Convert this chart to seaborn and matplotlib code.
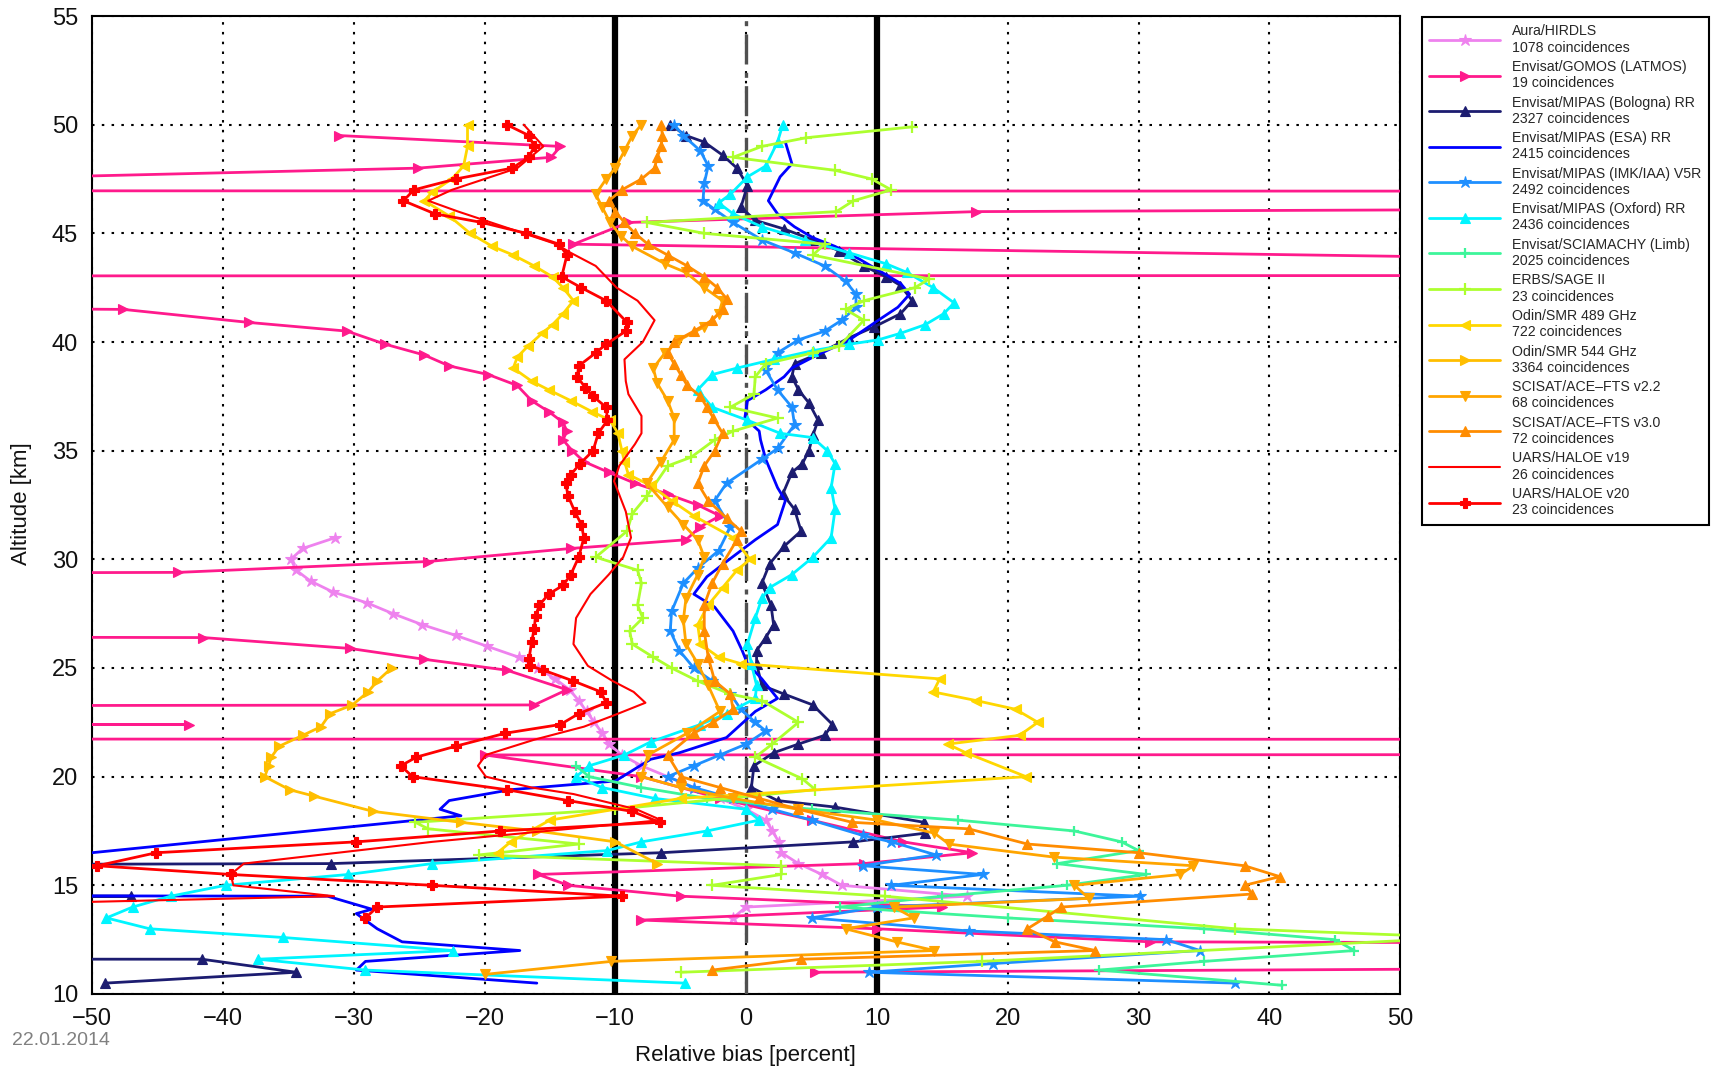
import matplotlib
matplotlib.use("Agg")
import matplotlib.pyplot as plt
import seaborn as sns
import numpy as np

# ---------------- data (altitude km, relative bias %) ----------------
alt_hirdls = [31.0, 30.5, 30.0, 29.5, 29.0, 28.5, 28.0, 27.5, 27.0, 26.5, 26.0, 25.5, 25.0, 24.5, 24.0, 23.5, 23.0, 22.5, 22.0, 21.5, 21.0, 20.5, 20.0, 19.5, 19.0, 18.5, 18.0, 17.5, 17.0, 16.5, 16.0, 15.5, 15.0, 14.5, 14.0, 13.5]
val_hirdls = [-31.4, -33.9, -34.8, -34.4, -33.3, -31.6, -29.0, -27.0, -24.8, -22.2, -19.8, -17.4, -15.9, -14.6, -13.5, -12.8, -12.2, -11.6, -11.0, -10.5, -9.5, -8.0, -6.0, -4.0, -2.0, 0.0, 1.5, 2.0, 2.5, 2.7, 4.0, 5.8, 7.3, 16.9, 0.0, -1.0]

alt_gomos = [49.5, 49.0, 48.5, 48.0, 47.5, 47.0, 46.9, 46.0, 45.5, 44.5, 43.5, 43.1, 43.0, 41.5, 40.9, 40.5, 39.9, 39.4, 38.9, 38.5, 38.0, 37.3, 36.8, 36.3, 35.9, 35.5, 35.0, 34.5, 34.0, 33.5, 33.0, 32.5, 32.0, 31.5, 30.9, 30.5, 29.9, 29.4, 29.0, 26.7, 26.4, 25.9, 25.4, 24.9, 24.0, 23.3, 23.1, 22.45, 22.4, 22.3, 21.75, 21.7, 21.05, 21.0, 20.0, 19.0, 18.0, 17.0, 16.5, 16.0, 15.5, 15.0, 14.5, 14.0, 13.4, 13.0, 12.4, 12.0, 11.9, 11.0]
val_gomos = [-31.1, -14.2, -14.9, -25.1, -60.0, -400.0, 400.0, 17.6, -9.0, -13.2, 100.0, 400.0, -400.0, -47.6, -38.0, -30.5, -27.6, -24.6, -22.7, -19.7, -17.5, -16.4, -15.1, -14.0, -13.7, -14.0, -13.3, -12.4, -10.5, -8.5, -6.0, -3.7, -2.0, -3.5, -4.6, -13.4, -24.3, -43.4, -300.0, -300.0, -41.5, -30.3, -24.6, -18.3, -13.7, -16.2, -300.0, -300.0, -42.6, -300.0, -300.0, 300.0, 300.0, -20.0, -8.0, -2.0, 5.0, 12.0, 17.3, 9.0, -15.9, -13.6, -5.0, 15.0, -8.0, 10.0, 30.9, 300.0, 300.0, 5.3]

alt_bologna = [50.0, 49.5, 49.2, 48.6, 48.0, 47.2, 46.2, 45.6, 45.2, 44.7, 44.2, 43.5, 43.0, 42.6, 41.9, 41.3, 40.7, 40.2, 39.5, 39.0, 38.4, 37.8, 37.2, 36.4, 35.7, 35.0, 34.4, 34.0, 33.0, 32.3, 31.3, 30.6, 29.8, 28.9, 27.9, 27.0, 26.4, 25.8, 25.2, 24.2, 23.8, 23.3, 22.4, 21.9, 21.5, 21.1, 20.5, 19.5, 18.9, 18.6, 17.9, 17.4, 17.0, 16.5, 16.0, 15.6, 14.6, 14.5, 14.3, 11.65, 11.6, 11.0, 10.5]
val_bologna = [-5.8, -4.6, -3.2, -1.8, -0.7, 0.1, -0.4, 0.7, 2.9, 5.1, 7.1, 9.0, 10.7, 11.8, 12.7, 11.8, 9.8, 7.9, 5.7, 3.7, 3.5, 4.0, 4.8, 5.5, 5.1, 4.8, 4.3, 3.5, 2.8, 3.7, 4.2, 2.9, 1.8, 1.2, 1.9, 2.1, 1.5, 0.8, 0.8, 1.2, 2.9, 5.1, 6.6, 6.0, 4.0, 2.1, 0.6, 0.4, 2.4, 6.8, 13.6, 13.7, 8.2, -6.5, -31.7, -300.0, -300.0, -47.0, -300.0, -300.0, -41.6, -34.4, -49.0]

alt_esa = [49.2, 48.2, 47.6, 46.5, 45.9, 45.3, 44.8, 44.4, 43.8, 43.2, 42.7, 42.2, 41.6, 41.0, 40.1, 39.3, 38.8, 38.4, 37.8, 37.3, 36.5, 35.9, 35.5, 34.6, 33.3, 32.7, 31.6, 30.9, 29.9, 29.2, 28.4, 27.8, 26.7, 25.8, 25.2, 24.5, 23.6, 23.0, 22.4, 21.8, 21.1, 20.8, 19.8, 19.4, 18.9, 18.5, 18.2, 16.2, 15.0, 14.7, 14.5, 13.9, 13.7, 13.0, 12.4, 12.0, 11.5, 11.1, 10.5]
val_esa = [3.0, 3.5, 2.6, 1.7, 2.4, 3.7, 5.1, 6.8, 8.7, 10.4, 11.8, 12.5, 11.6, 10.1, 7.9, 5.1, 3.5, 2.9, 1.5, 0.1, -0.1, 1.0, 1.1, 1.5, 2.4, 3.0, 2.4, 0.7, -1.5, -3.0, -4.0, -2.4, -1.0, -0.3, 0.1, 1.2, 2.4, 0.7, -0.4, -1.5, -5.1, -7.3, -10.0, -18.0, -22.7, -23.4, -21.8, -55.0, -300.0, -300.0, -32.0, -28.6, -29.8, -28.2, -26.3, -17.3, -29.1, -29.8, -16.0]

alt_imk = [50.0, 49.5, 48.8, 48.1, 47.3, 46.5, 46.1, 45.5, 44.7, 44.1, 43.5, 42.8, 42.2, 41.6, 41.0, 40.5, 40.1, 39.5, 38.7, 37.8, 37.0, 36.2, 35.1, 34.6, 33.5, 32.7, 31.5, 30.4, 29.6, 28.9, 27.6, 26.7, 25.8, 25.0, 24.4, 23.8, 23.1, 22.5, 22.1, 21.5, 21.0, 20.5, 20.0, 19.5, 19.0, 18.5, 18.0, 17.3, 17.0, 16.4, 15.9, 15.5, 15.0, 14.5, 14.0, 13.5, 12.9, 12.5, 12.0, 11.4, 11.0, 10.5]
val_imk = [-5.5, -4.8, -3.5, -2.9, -3.2, -3.3, -2.4, -1.0, 1.2, 3.7, 6.0, 7.6, 8.4, 8.4, 7.3, 6.0, 4.0, 2.4, 1.5, 2.4, 3.5, 3.7, 2.4, 1.2, -1.5, -2.4, -1.2, -2.1, -3.7, -4.8, -5.7, -5.8, -5.1, -4.0, -2.6, -1.2, -0.4, 0.7, 1.5, 0.0, -2.0, -4.0, -6.0, -4.0, -1.0, 2.0, 5.0, 8.9, 11.1, 14.5, 8.9, 18.1, 11.1, 30.1, 10.0, 5.0, 17.0, 32.1, 34.7, 18.9, 9.4, 37.4]

alt_oxford = [50.0, 49.2, 48.1, 47.6, 46.8, 46.4, 45.9, 45.3, 44.7, 44.1, 43.6, 43.2, 42.5, 41.8, 41.3, 40.8, 40.4, 40.1, 39.9, 39.6, 39.2, 38.8, 38.5, 37.8, 37.0, 36.4, 35.8, 35.6, 35.0, 34.4, 33.3, 32.3, 31.0, 30.1, 29.3, 28.7, 28.2, 27.3, 26.1, 25.2, 24.2, 23.6, 22.9, 22.4, 21.6, 21.0, 20.5, 20.0, 19.5, 19.0, 18.5, 18.0, 17.5, 17.0, 16.6, 16.0, 15.5, 15.0, 14.5, 14.0, 13.5, 13.0, 12.6, 12.0, 11.6, 11.1, 10.5]
val_oxford = [2.8, 2.4, 1.5, 0.1, -1.2, -2.1, -1.0, 1.2, 4.5, 7.9, 10.7, 12.3, 14.3, 15.9, 15.1, 13.7, 11.8, 10.1, 7.9, 5.1, 2.1, -0.7, -2.6, -3.7, -2.6, 0.1, 2.6, 5.1, 6.2, 6.8, 6.5, 6.8, 6.5, 5.1, 3.5, 1.8, 1.2, 0.7, 0.1, 0.4, 0.8, 0.7, -1.5, -3.5, -7.3, -9.3, -12.0, -13.0, -11.0, -7.0, 0.0, 1.0, -3.0, -8.0, -10.6, -24.0, -30.4, -39.8, -44.0, -46.9, -48.9, -45.6, -35.4, -22.4, -37.3, -29.1, -4.7]

alt_sciamachy = [20.5, 20.0, 19.5, 19.0, 18.5, 18.0, 17.5, 17.0, 16.6, 16.0, 15.5, 15.0, 14.5, 14.0, 13.5, 13.0, 12.5, 12.0, 11.5, 11.1, 10.4]
val_sciamachy = [-13.0, -12.0, -8.0, -3.0, 5.0, 16.2, 25.1, 28.7, 30.0, 23.8, 30.6, 24.5, 15.0, 7.2, 20.0, 35.0, 45.0, 46.5, 35.0, 27.0, 41.0]

alt_sage = [49.9, 49.4, 49.0, 48.5, 47.9, 47.5, 47.0, 46.5, 46.0, 45.5, 45.0, 44.5, 44.0, 42.9, 42.5, 41.9, 41.5, 41.0, 39.8, 39.5, 39.0, 38.4, 37.6, 37.0, 36.5, 35.9, 35.5, 34.7, 34.3, 32.9, 32.1, 31.3, 30.1, 29.5, 28.9, 27.9, 27.3, 26.7, 26.1, 25.5, 25.0, 24.4, 23.8, 23.5, 22.5, 21.5, 20.9, 19.9, 19.4, 18.5, 17.9, 17.6, 16.9, 16.4, 15.9, 15.5, 15.0, 14.5, 13.0, 12.6, 11.5, 11.0]
val_sage = [12.7, 4.6, 1.2, -1.0, 6.8, 9.6, 11.1, 8.2, 6.9, -7.6, -3.2, 6.0, 5.1, 14.0, 12.9, 9.0, 7.6, 9.0, 7.1, 5.1, 1.5, 0.7, 0.6, -1.2, 2.4, -1.0, -2.4, -4.2, -6.0, -7.6, -8.7, -9.1, -11.5, -8.3, -8.0, -8.3, -7.9, -8.9, -8.7, -7.1, -5.7, -3.7, -1.2, 1.2, 4.0, 2.0, 0.7, 4.3, 5.3, -10.0, -25.3, -24.3, -12.8, -20.4, 2.7, 2.7, -2.6, 10.6, 37.4, 55.0, 18.0, -5.0]

alt_smr489 = [50.0, 49.0, 48.1, 47.5, 46.9, 46.5, 45.8, 45.0, 44.4, 44.0, 43.5, 43.0, 42.5, 41.9, 41.3, 40.8, 40.4, 39.8, 39.3, 38.8, 38.2, 37.8, 37.3, 36.8, 36.4, 35.8, 35.0, 34.5, 33.9, 33.4, 32.7, 32.0, 31.0, 30.0, 29.5, 28.7, 27.9, 27.0, 26.1, 25.5, 25.2, 24.5, 23.9, 23.5, 23.1, 22.5, 21.9, 21.5, 21.1, 20.0, 19.0, 18.0, 17.0, 16.5]
val_smr489 = [-21.3, -21.3, -21.6, -22.5, -24.0, -24.6, -22.7, -21.1, -19.4, -17.8, -16.2, -14.8, -14.0, -13.2, -14.0, -14.8, -15.6, -16.7, -17.5, -17.8, -16.4, -15.1, -13.4, -11.8, -10.4, -9.8, -9.5, -9.3, -9.0, -7.3, -5.7, -4.0, -1.0, 0.3, -0.7, -1.8, -2.9, -3.7, -3.5, -2.1, -0.4, 14.8, 14.3, 17.6, 20.6, 22.3, 20.9, 15.4, 16.8, 21.4, -5.0, -15.0, -18.0, -19.0]

alt_smr544 = [25.0, 24.4, 23.9, 23.3, 22.9, 22.3, 21.9, 21.4, 20.9, 20.5, 20.0, 19.4, 19.1, 18.4, 17.9, 17.5, 17.0, 16.0]
val_smr544 = [-27.1, -28.2, -28.9, -30.1, -31.8, -32.5, -33.9, -35.7, -36.3, -36.5, -36.8, -34.9, -33.0, -28.5, -21.8, -16.0, -10.0, -6.8]

alt_ace22 = [50.0, 49.5, 48.8, 48.0, 47.5, 46.8, 46.2, 45.5, 44.9, 44.4, 43.6, 43.2, 42.5, 41.9, 41.3, 40.7, 40.1, 39.5, 38.8, 38.1, 37.3, 36.5, 35.5, 34.5, 33.5, 32.4, 31.6, 30.9, 30.1, 29.3, 28.2, 27.2, 26.1, 25.2, 24.2, 23.0, 22.0, 21.0, 20.0, 19.5, 19.0, 18.5, 18.0, 17.4, 16.9, 16.3, 15.9, 15.5, 15.0, 14.4, 14.0, 13.5, 13.0, 12.4, 12.0, 11.5, 10.9]
val_ace22 = [-8.0, -8.7, -9.3, -10.0, -10.7, -11.5, -11.0, -10.4, -9.6, -8.7, -6.2, -4.6, -3.2, -1.8, -2.1, -3.2, -5.1, -6.2, -7.1, -6.8, -6.0, -5.5, -5.5, -6.5, -7.6, -6.0, -4.8, -3.7, -3.2, -3.7, -4.6, -4.8, -4.6, -3.7, -2.9, -2.0, -4.5, -7.5, -8.0, -5.0, -1.0, 4.0, 10.0, 14.4, 15.5, 23.5, 34.2, 33.2, 25.1, 26.2, 11.3, 12.8, 7.6, 11.5, 14.4, -10.3, -20.0]

alt_ace30 = [50.0, 49.5, 49.0, 48.5, 48.0, 47.5, 47.0, 46.5, 46.0, 45.5, 45.0, 44.5, 44.0, 43.5, 43.0, 42.5, 42.0, 41.5, 41.0, 40.5, 40.0, 39.5, 39.0, 38.5, 38.0, 37.5, 37.0, 36.5, 35.8, 35.0, 34.3, 33.5, 32.7, 31.9, 31.3, 30.9, 29.8, 28.9, 27.9, 26.7, 25.5, 24.4, 23.8, 23.1, 22.5, 22.0, 21.0, 20.0, 19.5, 19.0, 18.5, 17.9, 17.6, 16.9, 16.5, 15.9, 15.4, 15.0, 14.6, 14.0, 13.6, 13.0, 12.4, 12.0, 11.6, 11.1]
val_ace30 = [-6.5, -6.4, -6.5, -6.8, -7.0, -8.0, -9.5, -10.5, -10.0, -9.3, -8.5, -7.5, -6.0, -4.5, -3.2, -2.2, -1.5, -1.8, -2.6, -4.0, -5.5, -6.0, -5.5, -5.0, -4.5, -3.5, -3.0, -2.5, -1.8, -2.4, -3.2, -3.7, -2.9, -1.5, -0.4, -0.7, -1.8, -2.6, -3.2, -3.2, -2.9, -2.4, -1.2, -1.0, -2.5, -4.0, -6.0, -5.0, -2.0, 1.0, 4.0, 8.1, 17.0, 21.5, 30.0, 38.1, 40.8, 38.1, 38.7, 24.1, 23.1, 21.5, 23.6, 26.7, 4.2, -2.6]

alt_haloe19 = [50.0, 49.0, 48.0, 47.0, 46.5, 46.0, 45.5, 45.0, 44.5, 44.1, 43.5, 42.5, 41.9, 41.0, 40.0, 39.2, 38.2, 37.6, 36.6, 35.8, 35.3, 34.3, 33.6, 32.2, 31.0, 30.1, 29.3, 28.4, 27.3, 26.1, 25.1, 24.4, 23.9, 23.4, 22.8, 22.3, 21.7, 21.0, 20.5, 20.0, 19.5, 19.2, 18.5, 18.0, 17.0, 16.0, 15.5, 15.0, 14.5, 14.1]
val_haloe19 = [-17.0, -15.5, -17.5, -22.5, -24.3, -22.0, -19.5, -17.0, -14.5, -13.4, -11.5, -9.9, -8.3, -7.0, -7.9, -9.3, -9.2, -9.0, -8.0, -8.0, -8.5, -9.7, -10.1, -9.2, -8.8, -9.4, -10.5, -11.9, -13.0, -13.2, -12.1, -10.2, -8.6, -7.7, -10.2, -12.4, -16.2, -19.9, -20.5, -19.9, -16.4, -13.2, -8.4, -6.5, -24.0, -38.4, -39.4, -39.2, -31.5, -60.0]

alt_haloe20 = [50.0, 49.5, 49.0, 48.5, 48.0, 47.5, 47.0, 46.5, 45.9, 45.5, 45.0, 44.5, 44.0, 43.0, 42.5, 41.9, 40.9, 40.5, 39.9, 39.5, 38.9, 38.4, 37.9, 37.5, 37.0, 36.4, 35.8, 35.0, 34.4, 33.9, 33.5, 32.9, 32.2, 31.6, 31.0, 30.1, 29.3, 28.8, 28.4, 27.9, 27.4, 26.8, 26.2, 25.4, 25.1, 24.9, 24.4, 23.9, 23.4, 22.9, 22.4, 22.0, 21.4, 20.9, 20.5, 20.0, 19.4, 18.9, 18.4, 17.9, 17.5, 17.0, 16.5, 15.9, 15.5, 15.0, 14.5, 14.0, 13.5]
val_haloe20 = [-18.3, -16.6, -16.2, -16.6, -17.9, -22.2, -25.4, -26.2, -23.8, -20.2, -16.8, -14.3, -13.7, -14.1, -12.6, -10.7, -9.1, -9.2, -10.7, -11.5, -12.8, -12.9, -12.3, -11.7, -10.7, -10.6, -11.3, -11.7, -12.7, -13.4, -13.8, -13.6, -13.1, -12.6, -12.4, -12.8, -13.4, -14.0, -15.1, -15.8, -16.1, -16.2, -16.4, -16.6, -16.5, -15.5, -13.2, -11.1, -10.7, -12.8, -14.2, -18.4, -22.2, -25.2, -26.4, -25.5, -18.3, -13.6, -8.7, -6.6, -18.8, -29.8, -45.1, -49.6, -39.4, -24.0, -9.5, -28.2, -29.1]

labels = [
    "Aura/HIRDLS\n1078 coincidences",
    "Envisat/GOMOS (LATMOS)\n19 coincidences",
    "Envisat/MIPAS (Bologna) RR\n2327 coincidences",
    "Envisat/MIPAS (ESA) RR\n2415 coincidences",
    "Envisat/MIPAS (IMK/IAA) V5R\n2492 coincidences",
    "Envisat/MIPAS (Oxford) RR\n2436 coincidences",
    "Envisat/SCIAMACHY (Limb)\n2025 coincidences",
    "ERBS/SAGE II\n23 coincidences",
    "Odin/SMR 489 GHz\n722 coincidences",
    "Odin/SMR 544 GHz\n3364 coincidences",
    "SCISAT/ACE\u2013FTS v2.2\n68 coincidences",
    "SCISAT/ACE\u2013FTS v3.0\n72 coincidences",
    "UARS/HALOE v19\n26 coincidences",
    "UARS/HALOE v20\n23 coincidences",
]
x_ticks = [-50, -40, -30, -20, -10, 0, 10, 20, 30, 40, 50]
y_ticks = [10, 15, 20, 25, 30, 35, 40, 45, 50, 55]

series = [
    (alt_hirdls, val_hirdls, "#EE82EE", "*", 9, 2.0),
    (alt_gomos, val_gomos, "#FF1A8C", ">", 7, 2.0),
    (alt_bologna, val_bologna, "#1C1C70", "^", 7, 2.0),
    (alt_esa, val_esa, "#0000FF", None, 0, 2.0),
    (alt_imk, val_imk, "#1E8FFF", "*", 9, 2.0),
    (alt_oxford, val_oxford, "#00F5FF", "^", 7, 2.0),
    (alt_sciamachy, val_sciamachy, "#3DF59A", "+", 7, 2.0),
    (alt_sage, val_sage, "#ADFF2F", "+", 8, 2.0),
    (alt_smr489, val_smr489, "#FFD700", "<", 7, 2.0),
    (alt_smr544, val_smr544, "#FFBE00", ">", 7, 2.0),
    (alt_ace22, val_ace22, "#FFA500", "v", 7, 2.0),
    (alt_ace30, val_ace30, "#FF8C00", "^", 7, 2.0),
    (alt_haloe19, val_haloe19, "#FF0000", None, 0, 1.5),
    (alt_haloe20, val_haloe20, "#FF0000", "P", 7, 2.0),
]

# ---------------- figure ----------------
sns.set_theme(style="white")
plt.rcParams["font.family"] = ["Liberation Sans", "DejaVu Sans"]

fig = plt.figure(figsize=(17.18, 10.68), dpi=100)
ax = fig.add_axes([0.0536, 0.0693, 0.7614, 0.9157])

ax.set_xlim(-50, 50)
ax.set_ylim(10, 55)
ax.set_xticks(x_ticks)
ax.set_yticks(y_ticks)
ax.grid(True, color="black", linestyle=(0, (1.2, 3.5)), linewidth=1.5)
ax.set_axisbelow(True)

ax.axvline(-10, color="black", linewidth=4.5, zorder=3)
ax.axvline(10, color="black", linewidth=4.5, zorder=3)
ax.axvline(0, color="#505050", linewidth=2.4, linestyle=(0, (9, 2.5, 1.5, 2.5)), zorder=3)

for (alt, val, col, mk, ms, lw), lab in zip(series, labels):
    kw = dict(color=col, linewidth=lw, label=lab)
    if mk is not None:
        kw.update(marker=mk, markersize=ms, markeredgecolor=col,
                  markerfacecolor=col, markeredgewidth=1.6 if mk == "+" else 0.8)
    sns.lineplot(x=val, y=alt, sort=False, estimator=None, ax=ax,
                 legend=False, zorder=4, **kw)

lines = ax.get_lines()[3:]
ax.legend(lines, labels, loc="upper left", bbox_to_anchor=(0.8275, 0.9845),
          bbox_transform=fig.transFigure, fontsize=10.2, handlelength=5.0,
          handletextpad=0.8, labelspacing=0.38, borderpad=0.55, borderaxespad=0,
          frameon=True, fancybox=False, edgecolor="black", framealpha=1,
          numpoints=1)
leg = ax.get_legend()
leg.get_frame().set_linewidth(1.5)

for s in ax.spines.values():
    s.set_color("black")
    s.set_linewidth(1.5)
ax.tick_params(axis="both", which="major", direction="out", length=7, width=1.3,
               color="black", labelsize=17, labelcolor="#111111", pad=3)

fig.text(0.4337, 0.012, "Relative bias [percent]", ha="center", va="center",
         fontsize=16, color="#111111")
fig.text(0.0128, 0.528, "Altitude [km]", ha="center", va="center",
         rotation=90, fontsize=16, color="#111111")
fig.text(0.007, 0.026, "22.01.2014", ha="left", va="center", fontsize=14,
         color="#808080")

fig.savefig("out.png", dpi=100)
